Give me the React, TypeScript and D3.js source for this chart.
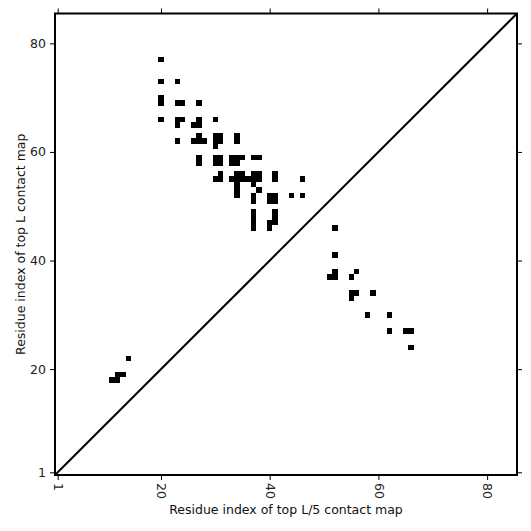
import React, { useEffect, useRef } from "react";
import * as d3 from "d3";

const tickValues = [1, 20, 40, 60, 80];
const seqLength = 85;

// contact cells (L/5 index on x, L index on y)
const contactX = [
  20, 20, 23, 20, 20, 23, 24, 27, 20, 23, 24, 27, 30, 23, 26, 27,
  27, 30, 31, 34,
  23, 26, 27, 28, 30, 31, 34,
  30,
  27, 30, 31, 33, 34, 35, 37, 38,
  27, 30, 31, 33, 34,
  31, 34, 35, 37, 38, 41,
  30, 31, 33, 34, 35, 36, 37, 38, 41, 46,
  34, 37,
  34, 38,
  34, 37, 40, 41, 44, 46,
  37, 40, 41,
  37, 41, 37, 41, 37, 40, 41, 37, 40,
  52, 52, 52, 51, 52, 56, 55, 55, 56, 55, 59, 58, 62, 62, 65, 66, 66,
  14, 12, 13, 11, 12,
];
const contactY = [
  77, 73, 73, 70, 69, 69, 69, 69, 66, 66, 66, 66, 66, 65, 65, 65,
  63, 63, 63, 63,
  62, 62, 62, 62, 62, 62, 62,
  61,
  59, 59, 59, 59, 59, 59, 59, 59,
  58, 58, 58, 58, 58,
  56, 56, 56, 56, 56, 56,
  55, 55, 55, 55, 55, 55, 55, 55, 55, 55,
  54, 54,
  53, 53,
  52, 52, 52, 52, 52, 52,
  51, 51, 51,
  49, 49, 48, 48, 47, 47, 47, 46, 46,
  46, 41, 38, 37, 37, 38, 37, 34, 34, 33, 34, 30, 30, 27, 27, 27, 24,
  22, 19, 19, 18, 18,
];

const xTitle = "Residue index of top L/5 contact map";
const yTitle = "Residue index of top L contact map";

const W = 531;
const H = 531;
const left = 55;
const right = 517;
const top = 13.5;
const bottom = 475;
const FONT = "DejaVu Sans, sans-serif";

export default function App() {
  const ref = useRef<SVGSVGElement>(null);

  useEffect(() => {
    const svg = d3.select(ref.current);
    svg.selectAll("*").remove();

    const x = d3.scaleLinear().domain([0.5, seqLength + 0.5]).range([left, right]);
    const y = d3.scaleLinear().domain([0.5, seqLength + 0.5]).range([bottom, top]);

    const cells = contactX.map((cx, i) => ({ cx, cy: contactY[i] }));

    svg
      .append("g")
      .selectAll("rect")
      .data(cells)
      .join("rect")
      .attr("x", (d) => x(d.cx - 0.5))
      .attr("y", (d) => y(d.cy + 0.5))
      .attr("width", (d) => x(d.cx + 0.5) - x(d.cx - 0.5))
      .attr("height", (d) => y(d.cy - 0.5) - y(d.cy + 0.5))
      .attr("fill", "#000")
      .attr("shape-rendering", "crispEdges");

    // diagonal
    svg
      .append("line")
      .attr("x1", x(0.5))
      .attr("y1", y(0.5))
      .attr("x2", x(seqLength + 0.5))
      .attr("y2", y(seqLength + 0.5))
      .attr("stroke", "#000")
      .attr("stroke-width", 2);

    const styleAxis = (g: any) => {
      g.select(".domain").remove();
      g.selectAll(".tick line").attr("stroke", "#000").attr("stroke-width", 1);
      g.selectAll(".tick text")
        .attr("fill", "#222")
        .style("font-family", FONT)
        .style("font-size", "12.5px");
    };

    const bottomAxis = svg
      .append("g")
      .attr("transform", `translate(0,${bottom})`)
      .call(d3.axisBottom(x).tickValues(tickValues).tickSize(5).tickSizeOuter(0).tickFormat(d3.format("d")));
    styleAxis(bottomAxis);
    bottomAxis
      .selectAll(".tick text")
      .attr("transform", "rotate(90)")
      .attr("x", 8)
      .attr("y", 0)
      .attr("dy", "0.35em")
      .attr("text-anchor", "start");

    const leftAxis = svg
      .append("g")
      .attr("transform", `translate(${left},0)`)
      .call(d3.axisLeft(y).tickValues(tickValues).tickSize(5).tickSizeOuter(0).tickFormat(d3.format("d")));
    styleAxis(leftAxis);
    leftAxis.selectAll(".tick text").attr("x", -9);

    const topAxis = svg
      .append("g")
      .attr("transform", `translate(0,${top})`)
      .call(d3.axisTop(x).tickValues(tickValues).tickSize(5).tickSizeOuter(0).tickFormat(() => ""));
    styleAxis(topAxis);

    const rightAxis = svg
      .append("g")
      .attr("transform", `translate(${right},0)`)
      .call(d3.axisRight(y).tickValues(tickValues).tickSize(5).tickSizeOuter(0).tickFormat(() => ""));
    styleAxis(rightAxis);

    // frame
    svg
      .append("rect")
      .attr("x", left)
      .attr("y", top)
      .attr("width", right - left)
      .attr("height", bottom - top)
      .attr("fill", "none")
      .attr("stroke", "#000")
      .attr("stroke-width", 2);

    svg
      .append("text")
      .attr("x", (left + right) / 2)
      .attr("y", 514)
      .attr("text-anchor", "middle")
      .style("font-family", FONT)
      .style("font-size", "12.5px")
      .attr("fill", "#111")
      .text(xTitle);

    svg
      .append("text")
      .attr("transform", `translate(25,${(top + bottom) / 2}) rotate(-90)`)
      .attr("text-anchor", "middle")
      .style("font-family", FONT)
      .style("font-size", "12.5px")
      .attr("fill", "#111")
      .text(yTitle);
  }, []);

  return (
    <svg
      ref={ref}
      width={W}
      height={H}
      style={{ position: "absolute", left: 0, top: 0, background: "#fff" }}
    />
  );
}
